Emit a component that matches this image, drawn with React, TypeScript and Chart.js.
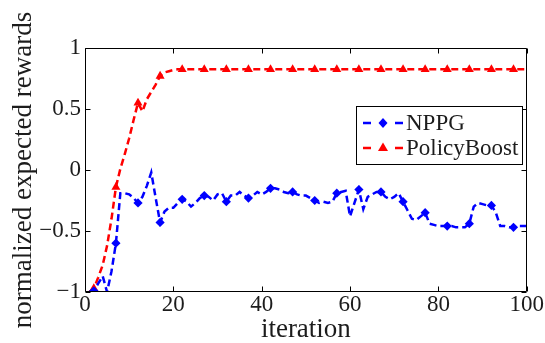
import React, { useEffect, useRef } from 'react';
import { Chart, registerables } from 'chart.js';

Chart.register(...registerables);

const iterations = [
  1, 2, 3, 4, 5, 6, 7, 8, 9, 10,
  11, 12, 13, 14, 15, 16, 17, 18, 19, 20,
  21, 22, 23, 24, 25, 26, 27, 28, 29, 30,
  31, 32, 33, 34, 35, 36, 37, 38, 39, 40,
  41, 42, 43, 44, 45, 46, 47, 48, 49, 50,
  51, 52, 53, 54, 55, 56, 57, 58, 59, 60,
  61, 62, 63, 64, 65, 66, 67, 68, 69, 70,
  71, 72, 73, 74, 75, 76, 77, 78, 79, 80,
  81, 82, 83, 84, 85, 86, 87, 88, 89, 90,
  91, 92, 93, 94, 95, 96, 97, 98, 99, 100,
];

const nppg = [
  -1.0, -0.99, -0.93, -0.87, -1.0, -0.83, -0.6, -0.19, -0.19, -0.2,
  -0.23, -0.27, -0.22, -0.13, -0.02, -0.23, -0.43, -0.34, -0.31, -0.31,
  -0.27, -0.24, -0.26, -0.3, -0.27, -0.23, -0.21, -0.22, -0.25, -0.2,
  -0.19, -0.26, -0.21, -0.21, -0.18, -0.21, -0.23, -0.21, -0.18, -0.2,
  -0.18, -0.15, -0.15, -0.16, -0.18, -0.19, -0.18, -0.2, -0.21, -0.21,
  -0.23, -0.25, -0.27, -0.26, -0.27, -0.26, -0.19, -0.18, -0.17, -0.38,
  -0.27, -0.16, -0.32, -0.22, -0.2, -0.18, -0.18, -0.22, -0.24, -0.22,
  -0.19, -0.26, -0.33, -0.4, -0.41, -0.38, -0.35, -0.44, -0.45, -0.46,
  -0.46, -0.46, -0.46, -0.47, -0.47, -0.47, -0.44, -0.3, -0.27, -0.28,
  -0.29, -0.29, -0.35, -0.46, -0.46, -0.47, -0.47, -0.46, -0.46, -0.46,
];

const policyBoost = [
  -1.0, -0.97, -0.88, -0.78, -0.62, -0.4, -0.14, 0.01, 0.13, 0.26,
  0.41, 0.55, 0.48, 0.58, 0.64, 0.7, 0.77, 0.8, 0.81, 0.82,
  0.825, 0.825, 0.825, 0.825, 0.825, 0.825, 0.825, 0.825, 0.825, 0.825,
  0.825, 0.825, 0.825, 0.825, 0.825, 0.825, 0.825, 0.825, 0.825, 0.825,
  0.825, 0.825, 0.825, 0.825, 0.825, 0.825, 0.825, 0.825, 0.825, 0.825,
  0.825, 0.825, 0.825, 0.825, 0.825, 0.825, 0.825, 0.825, 0.825, 0.825,
  0.825, 0.825, 0.825, 0.825, 0.825, 0.825, 0.825, 0.825, 0.825, 0.825,
  0.825, 0.825, 0.825, 0.825, 0.825, 0.825, 0.825, 0.825, 0.825, 0.825,
  0.825, 0.825, 0.825, 0.825, 0.825, 0.825, 0.825, 0.825, 0.825, 0.825,
  0.825, 0.825, 0.825, 0.825, 0.825, 0.825, 0.825, 0.825, 0.825, 0.825,
];

const seriesNames = ['NPPG', 'PolicyBoost'];
const xTicks = [0, 20, 40, 60, 80, 100];
const xTickLabels = ['0', '20', '40', '60', '80', '100'];
const yTicks = [-1, -0.5, 0, 0.5, 1];
const yTickLabels = ['\u22121', '\u22120.5', '0', '0.5', '1'];
const xTitle = 'iteration';
const yTitle = 'normalized expected rewards';

const FONT = '"Liberation Serif", "Times New Roman", serif';
const TEXT = '#1c1c1c';
const BLUE = '#0000ff';
const RED = '#ff0000';

const markerEvery = (ctx: any) => ((ctx.dataIndex - 1) % 5 === 0 ? 1 : 0);

const framePlugin = {
  id: 'frameTicksLegend',
  afterDraw(chart: any) {
    const { ctx, chartArea: a, scales } = chart;
    const L = Math.round(a.left) + 0.5;
    const R = Math.round(a.right) - 0.5;
    const T = Math.round(a.top) + 0.5;
    const B = Math.round(a.bottom) - 0.5;
    ctx.save();
    ctx.strokeStyle = '#000';
    ctx.lineWidth = 1;
    ctx.setLineDash([]);
    ctx.beginPath();
    ctx.rect(L, T, R - L, B - T);
    const tl = 5;
    xTicks.forEach((v) => {
      const px = Math.round(scales.x.getPixelForValue(v)) + 0.5;
      ctx.moveTo(px, B);
      ctx.lineTo(px, B - tl);
      ctx.moveTo(px, T);
      ctx.lineTo(px, T + tl);
    });
    yTicks.forEach((v) => {
      const py = Math.round(scales.y.getPixelForValue(v)) + 0.5;
      ctx.moveTo(L, py);
      ctx.lineTo(L + tl, py);
      ctx.moveTo(R, py);
      ctx.lineTo(R - tl, py);
    });
    ctx.stroke();

    // legend
    const bx = 356.5, by = 106.5, bw = 166, bh = 58;
    ctx.fillStyle = '#fff';
    ctx.fillRect(bx, by, bw, bh);
    ctx.strokeRect(bx, by, bw, bh);
    const rows = [
      { name: seriesNames[0], color: BLUE, y: 123, shape: 'diamond' },
      { name: seriesNames[1], color: RED, y: 148, shape: 'triangle' },
    ];
    rows.forEach((r) => {
      ctx.strokeStyle = r.color;
      ctx.fillStyle = r.color;
      ctx.lineWidth = 2.5;
      ctx.beginPath();
      ctx.moveTo(363, r.y);
      ctx.lineTo(371, r.y);
      ctx.moveTo(395, r.y);
      ctx.lineTo(403, r.y);
      ctx.stroke();
      const cx = 383;
      ctx.beginPath();
      if (r.shape === 'diamond') {
        ctx.moveTo(cx, r.y - 5);
        ctx.lineTo(cx + 4.5, r.y);
        ctx.lineTo(cx, r.y + 5);
        ctx.lineTo(cx - 4.5, r.y);
      } else {
        ctx.moveTo(cx, r.y - 5.5);
        ctx.lineTo(cx + 5, r.y + 3);
        ctx.lineTo(cx - 5, r.y + 3);
      }
      ctx.closePath();
      ctx.fill();
      ctx.fillStyle = TEXT;
      ctx.font = `23px ${FONT}`;
      ctx.textBaseline = 'middle';
      ctx.textAlign = 'left';
      ctx.fillText(r.name, 406, r.y + 1);
    });
    ctx.restore();
  },
};

export default function App() {
  const ref = useRef<HTMLCanvasElement | null>(null);

  useEffect(() => {
    document.body.style.margin = '0';
    const canvas = ref.current;
    if (!canvas) return;
    const chart = new Chart(canvas, {
      type: 'line',
      data: {
        datasets: [
          {
            label: seriesNames[0],
            data: iterations.map((x, i) => ({ x, y: nppg[i] })),
            borderColor: BLUE,
            backgroundColor: BLUE,
            borderWidth: 2.5,
            borderDash: [7, 4],
            tension: 0,
            pointStyle: 'rectRot',
            pointRadius: (c: any) => 4.6 * markerEvery(c),
            pointBorderWidth: 0,
            pointBackgroundColor: BLUE,
          },
          {
            label: seriesNames[1],
            data: iterations.map((x, i) => ({ x, y: policyBoost[i] })),
            borderColor: RED,
            backgroundColor: RED,
            borderWidth: 2.5,
            borderDash: [7, 4],
            tension: 0,
            pointStyle: 'triangle',
            pointRadius: (c: any) => 5.2 * markerEvery(c),
            pointBorderWidth: 0,
            pointBackgroundColor: RED,
          },
        ],
      },
      options: {
        animation: false,
        responsive: false,
        devicePixelRatio: 1,
        layout: { padding: { top: 48, right: 17, left: 0, bottom: 0 } },
        plugins: { legend: { display: false }, tooltip: { enabled: false } },
        scales: {
          x: {
            type: 'linear',
            min: 0,
            max: 100,
            afterBuildTicks: (s: any) => {
              s.ticks = xTicks.map((v) => ({ value: v }));
            },
            afterFit: (s: any) => {
              s.height = 51;
            },
            ticks: {
              autoSkip: false,
              maxRotation: 0,
              padding: 1,
              color: TEXT,
              font: { family: FONT, size: 23, lineHeight: 1 },
              callback: (v: any) => xTickLabels[xTicks.indexOf(Number(v))] ?? '',
            },
            grid: { display: false, drawTicks: false },
            border: { display: false },
            title: {
              display: true,
              text: xTitle,
              color: TEXT,
              font: { family: FONT, size: 27, lineHeight: 1 },
              padding: { top: 0, bottom: 0 },
            },
          },
          y: {
            type: 'linear',
            min: -1,
            max: 1,
            afterBuildTicks: (s: any) => {
              s.ticks = yTicks.map((v) => ({ value: v }));
            },
            afterFit: (s: any) => {
              s.width = 85;
            },
            ticks: {
              autoSkip: false,
              padding: 4,
              color: TEXT,
              font: { family: FONT, size: 23, lineHeight: 1 },
              callback: (v: any) => yTickLabels[yTicks.indexOf(Number(v))] ?? '',
            },
            grid: { display: false, drawTicks: false },
            border: { display: false },
            title: {
              display: true,
              text: yTitle,
              color: TEXT,
              font: { family: FONT, size: 27, lineHeight: 1 },
              padding: { top: 10, bottom: 0 },
            },
          },
        },
      },
      plugins: [framePlugin],
    } as any);
    return () => chart.destroy();
  }, []);

  return (
    <canvas
      ref={ref}
      width={545}
      height={343}
      style={{ display: 'block', width: 545, height: 343 }}
    />
  );
}
